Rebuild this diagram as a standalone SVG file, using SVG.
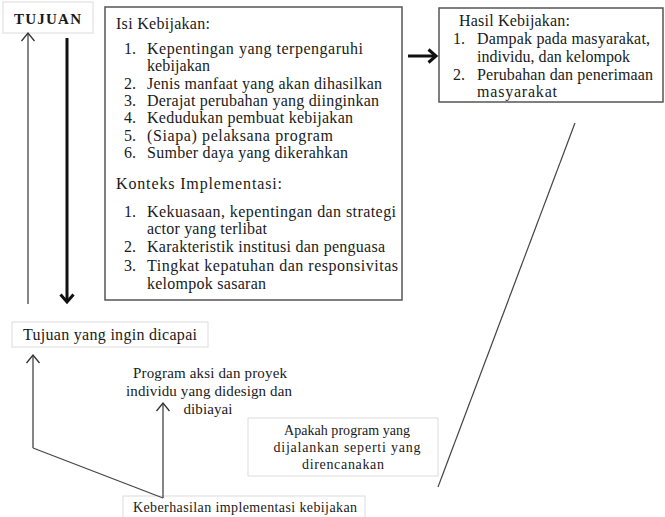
<svg xmlns="http://www.w3.org/2000/svg" width="665" height="517" viewBox="0 0 665 517">
<style>
text{font-family:"Liberation Serif","Times New Roman","DejaVu Serif",serif;fill:#1a1a1a;}
.t{font-size:16px;}
.s{font-size:15px;}
.a{font-size:14px;}
.b{font-size:15px;font-weight:bold;}
.box{fill:#fff;stroke:#555;stroke-width:1.5;}
.lbox{fill:#fff;stroke:#dcdcdc;stroke-width:1;}
.thin{stroke:#444;stroke-width:1.3;fill:none;}
.thick{stroke:#111;stroke-width:3;fill:none;}
.ln{stroke:#444;stroke-width:1.2;fill:none;}
</style>
<defs>
<marker id="open" markerUnits="userSpaceOnUse" markerWidth="12" markerHeight="16" viewBox="0 0 12 16" refX="9" refY="8" orient="auto">
<path d="M1,1.5 L9,8 L1,14.5" fill="none" stroke="#333" stroke-width="1.3"/>
</marker>
<marker id="bold" markerUnits="userSpaceOnUse" markerWidth="12" markerHeight="16" viewBox="0 0 12 16" refX="9" refY="8" orient="auto">
<path d="M1.5,1.5 L9,8 L1.5,14.5" fill="none" stroke="#111" stroke-width="3"/>
</marker>
</defs>

<g id="tujuan">
<rect class="lbox" x="3" y="2" width="90" height="31"/>
<text class="b" x="14" y="24" textLength="67" lengthAdjust="spacing">TUJUAN</text>
</g>

<g id="isi-kebijakan">
<rect class="box" x="105" y="7" width="297" height="293"/>
<text class="t" x="116" y="29" textLength="94" lengthAdjust="spacing">Isi Kebijakan:</text>
<text class="t" x="124" y="54">1.</text>
<text class="t" x="147" y="54" textLength="216" lengthAdjust="spacing">Kepentingan yang terpengaruhi</text>
<text class="t" x="147" y="71" textLength="63" lengthAdjust="spacing">kebijakan</text>
<text class="t" x="124" y="89">2.</text>
<text class="t" x="147" y="89" textLength="235" lengthAdjust="spacing">Jenis manfaat yang akan dihasilkan</text>
<text class="t" x="124" y="106">3.</text>
<text class="t" x="147" y="106" textLength="232" lengthAdjust="spacing">Derajat perubahan yang diinginkan</text>
<text class="t" x="124" y="123">4.</text>
<text class="t" x="147" y="123" textLength="206" lengthAdjust="spacing">Kedudukan pembuat kebijakan</text>
<text class="t" x="124" y="141">5.</text>
<text class="t" x="147" y="141" textLength="186" lengthAdjust="spacing">(Siapa) pelaksana program</text>
<text class="t" x="124" y="158">6.</text>
<text class="t" x="147" y="158" textLength="201" lengthAdjust="spacing">Sumber daya yang dikerahkan</text>
<text class="t" x="116" y="189" textLength="166" lengthAdjust="spacing">Konteks Implementasi:</text>
<text class="t" x="124" y="217">1.</text>
<text class="t" x="147" y="217" textLength="249" lengthAdjust="spacing">Kekuasaan, kepentingan dan strategi</text>
<text class="t" x="147" y="234" textLength="120" lengthAdjust="spacing">actor yang terlibat</text>
<text class="t" x="124" y="252">2.</text>
<text class="t" x="147" y="252" textLength="238" lengthAdjust="spacing">Karakteristik institusi dan penguasa</text>
<text class="t" x="124" y="271">3.</text>
<text class="t" x="147" y="271" textLength="251" lengthAdjust="spacing">Tingkat kepatuhan dan responsivitas</text>
<text class="t" x="147" y="289" textLength="119" lengthAdjust="spacing">kelompok sasaran</text>
</g>

<g id="hasil-kebijakan">
<rect class="box" x="439" y="8" width="224" height="94"/>
<text class="t" x="459" y="26" textLength="111" lengthAdjust="spacing">Hasil Kebijakan:</text>
<text class="t" x="453" y="44">1.</text>
<text class="t" x="477" y="44" textLength="173" lengthAdjust="spacing">Dampak pada masyarakat,</text>
<text class="t" x="477" y="62" textLength="153" lengthAdjust="spacing">individu, dan kelompok</text>
<text class="t" x="453" y="80">2.</text>
<text class="t" x="477" y="80" textLength="176" lengthAdjust="spacing">Perubahan dan penerimaan</text>
<text class="t" x="477" y="97" textLength="80" lengthAdjust="spacing">masyarakat</text>
</g>

<g id="tujuan-dicapai">
<rect class="lbox" x="12" y="322" width="196" height="25"/>
<text class="t" x="23" y="340" textLength="174" lengthAdjust="spacing">Tujuan yang ingin dicapai</text>
</g>

<g id="program-aksi">
<text class="s" x="210" y="378" text-anchor="middle" textLength="154" lengthAdjust="spacing">Program aksi dan proyek</text>
<text class="s" x="209" y="396" text-anchor="middle" textLength="166" lengthAdjust="spacing">individu yang didesign dan</text>
<text class="s" x="208" y="414" text-anchor="middle" textLength="49" lengthAdjust="spacing">dibiayai</text>
</g>

<g id="apakah">
<rect class="lbox" x="248" y="418" width="190" height="58"/>
<text class="a" x="347" y="435" text-anchor="middle" textLength="126" lengthAdjust="spacing">Apakah program yang</text>
<text class="a" x="347" y="452" text-anchor="middle" textLength="147" lengthAdjust="spacing">dijalankan seperti yang</text>
<text class="a" x="343" y="469" text-anchor="middle" textLength="82" lengthAdjust="spacing">direncanakan</text>
</g>

<g id="keberhasilan">
<rect class="lbox" x="123" y="496" width="242" height="24"/>
<text class="a" x="133" y="512" textLength="224" lengthAdjust="spacing">Keberhasilan implementasi kebijakan</text>
</g>

<g id="connectors">
<line class="thin" x1="28" y1="304" x2="28" y2="33" marker-end="url(#open)"/>
<line class="thick" x1="67" y1="38" x2="67" y2="302" marker-end="url(#bold)"/>
<line class="thick" x1="408" y1="56" x2="436" y2="56" stroke-width="2.5" marker-end="url(#bold)"/>
<line class="ln" x1="575" y1="123" x2="438" y2="487"/>
<line class="thin" x1="33" y1="448" x2="33" y2="355" marker-end="url(#open)"/>
<line class="ln" x1="33" y1="448" x2="163" y2="498"/>
<line class="thin" x1="163" y1="498" x2="163" y2="403" marker-end="url(#open)"/>
</g>
</svg>
